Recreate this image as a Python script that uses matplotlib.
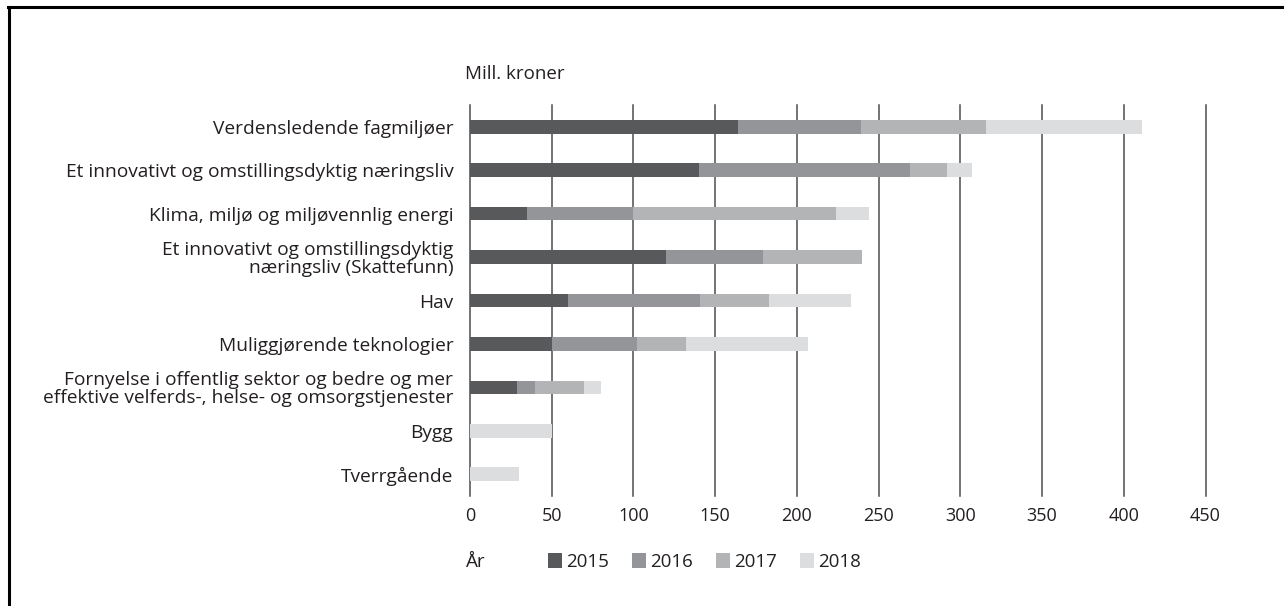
import matplotlib
matplotlib.use('Agg')
import matplotlib.pyplot as plt
from matplotlib.patches import Patch
from matplotlib.lines import Line2D

plt.rcParams['font.family'] = ['Open Sans', 'DejaVu Sans']

# ---- data (mill. kroner) ----
categories = [
    'Verdensledende fagmiljøer',
    'Et innovativt og omstillingsdyktig næringsliv',
    'Klima, miljø og miljøvennlig energi',
    'Et innovativt og omstillingsdyktig\nnæringsliv (Skattefunn)',
    'Hav',
    'Muliggjørende teknologier',
    'Fornyelse i offentlig sektor og bedre og mer\neffektive velferds-, helse- og omsorgstjenester',
    'Bygg',
    'Tverrgående',
]
years = ['2015', '2016', '2017', '2018']
v2015 = [164, 140, 35, 120, 60, 50, 29, 0, 0]
v2016 = [75, 129, 65, 59, 81, 52, 11, 0, 0]
v2017 = [77, 23, 124, 61, 42, 30, 30, 0, 0]
v2018 = [95, 15, 20, 0, 50, 75, 10, 50, 30]
colors = ['#58595b', '#939598', '#b3b4b6', '#dcddde']
xticks = list(range(0, 451, 50))

W, H = 1284, 606
fig = plt.figure(figsize=(W / 100, H / 100), dpi=100)
ax = fig.add_axes([470 / W, 1 - 496 / H, (1205.5 - 470) / W, (496 - 105) / H])

# stacked horizontal bars, one series per year
ypos = list(range(len(categories)))
left = [0] * len(categories)
for vals, col in zip([v2015, v2016, v2017, v2018], colors):
    ax.barh(ypos, vals, left=left, height=0.315, color=col, linewidth=0)
    left = [a + b for a, b in zip(left, vals)]

ax.set_xlim(0, 450)
ax.set_ylim(len(categories) - 0.5, -0.5)
ax.set_xticks(xticks)
ax.set_yticks(ypos)
ax.set_yticklabels(categories, fontsize=13.8, linespacing=0.97)
ax.tick_params(axis='x', length=0, pad=8, labelsize=13, labelcolor='#231f20')
ax.tick_params(axis='y', length=0, pad=12, labelcolor='#231f20')
for s in ax.spines.values():
    s.set_visible(False)
ax.xaxis.grid(True, color='#4d4d4f', linewidth=1.1)
ax.set_axisbelow(True)
for gl in ax.get_xgridlines():
    gl.set_clip_on(False)

fig.text(465 / W, 1 - 74 / H, 'Mill. kroner', fontsize=13.5, va='center', ha='left', color='#231f20')
fig.text(466 / W, 1 - 562 / H, 'År', fontsize=13.5, va='center', ha='left', color='#231f20')

handles = [Patch(facecolor=c, edgecolor='none') for c in colors]
fig.legend(handles, years, loc='center left', bbox_to_anchor=(548 / W, 1 - 562 / H),
           ncol=4, frameon=False, fontsize=13.5, borderpad=0, borderaxespad=0,
           handlelength=0.75, handleheight=0.85, handletextpad=0.2, columnspacing=1.25,
           labelcolor='#231f20')

# frame lines (top and left)
fig.add_artist(Line2D([8 / W, 1], [1 - 7 / H, 1 - 7 / H], transform=fig.transFigure, color='black', lw=2.2))
fig.add_artist(Line2D([8.5 / W, 8.5 / W], [0, 1 - 7 / H], transform=fig.transFigure, color='black', lw=2.2))

fig.savefig('out.png', dpi=100)
